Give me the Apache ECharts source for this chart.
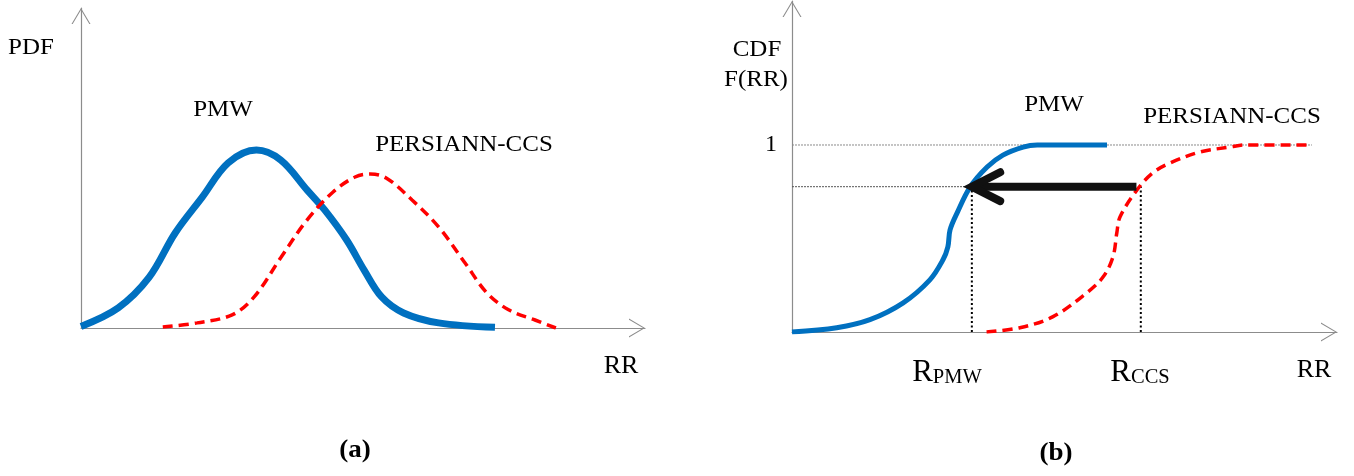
<!DOCTYPE html>
<html>
<head>
<meta charset="utf-8">
<script src="https://cdn.jsdelivr.net/npm/echarts@6/dist/echarts.min.js"></script>
<style>
html,body{margin:0;padding:0;background:#fff;}
#chart{width:1354px;height:476px;}
</style>
</head>
<body>
<div id="chart"></div>
<script>
// ---- Data (abstract units) ----
// Panel (a): PDFs, x = rain rate (0-100), y = density (0-100)
const pdfPMW = [[0,0.5],[6.6,6.3],[12.1,15.9],[16.7,29.7],[21.5,40.9],[26.1,51.6],[31.1,55.6],[35.4,52.5],[40.1,43.1],[43.2,36.9],[47.1,27.5],[50.2,18.1],[53.3,9.7],[57.2,4.7],[63.4,1.6],[73.4,0.2]];
const pdfCCS = [[14.5,0.3],[20.6,1.6],[26.8,4.1],[30.7,9.7],[35.5,22.2],[40.1,33.8],[44.7,42.5],[48.6,47.2],[51.3,48.1],[54.1,46.9],[58.7,40.0],[63.4,31.6],[68.1,20.3],[72.0,10.9],[75.9,5.6],[80.5,2.5],[84.2,0]];
// Panel (b): CDFs, x = rain rate (0-100), y = F(RR) (0-1)
const cdfPMW = [[0,0],[8.2,0.023],[14.3,0.066],[20.4,0.156],[25.3,0.279],[27.7,0.386],[28.6,0.455],[29.0,0.546],[30.3,0.637],[32.7,0.776],[35.8,0.882],[38.7,0.946],[42.4,0.989],[45.0,1.0],[57.8,1.0]];
const cdfCCS = [[35.7,0],[41.8,0.023],[47.9,0.082],[54.1,0.210],[57.1,0.295],[58.9,0.402],[59.6,0.530],[60.2,0.616],[63.3,0.760],[66.2,0.851],[69.4,0.904],[74.9,0.963],[80.4,0.989],[83.1,1.0],[95.4,1.0]];
// Quantile mapping guides
const R_PMW = 33.0;
const R_CCS = 64.0;
const F_LEVEL = 0.777;
const F_ONE = 1;
const ONE_LINE_END = 95.4;
const ARROW_START = 63.2;
const ARROW_HEAD_BACK = 38.2;
const ARROW_HEAD_HALF = 0.077;
// Tick labels
const cdfTickLabels = {1: '1'};

const FONT = '"Liberation Serif","Times New Roman",serif';
const BLUE = '#0070C0';
const RED = '#FF0000';
const AXIS = '#8c8c8c';
const CHEVRON = 'path://M0,16 L9.5,0 L19,16 L17.8,16 L9.5,1.9 L1.2,16 Z';
const SX = 1.04;

function axisBase(extra){
  return Object.assign({
    type: 'value',
    axisLine: {show: true, onZero: false, lineStyle: {color: AXIS, width: 1.2},
      symbol: ['none', CHEVRON], symbolSize: [19, 16], symbolOffset: [0, -8]},
    axisTick: {show: false},
    axisLabel: {show: false},
    splitLine: {show: false}
  }, extra);
}

const lineSeries = (name, data, xi, color, width, type, z, extra) => Object.assign({
  name, type: 'line', data, xAxisIndex: xi, yAxisIndex: xi,
  symbol: 'none', silent: true, z: z || 2,
  lineStyle: {color, width, type: type || 'solid'}
}, extra || {});

const chart = echarts.init(document.getElementById('chart'), null, {renderer: 'canvas'});

const txt = (text, x, y, size, bold) => ({
  type: 'text', x, y, scaleX: SX, silent: true,
  style: {text, fill: '#000', font: (bold ? 'bold ' : '') + size + 'px ' + FONT,
    textAlign: 'center', textVerticalAlign: 'middle', verticalAlign: 'middle'}
});
const subTxt = (main, sub, x, y) => ({
  type: 'text', x, y, silent: true,
  style: {text: '{r|' + main + '}{s|' + sub + '}', fill: '#000', textAlign: 'center',
    textVerticalAlign: 'middle', verticalAlign: 'middle',
    rich: {r: {fontSize: 31, fontFamily: FONT, verticalAlign: 'bottom', fill: '#000'},
           s: {fontSize: 20.5, fontFamily: FONT, verticalAlign: 'bottom', fill: '#000'}}}
});

const smoothOpts = {smooth: 0.35};

const option = {
  animation: false,
  backgroundColor: '#fff',
  grid: [
    {left: 81, top: 8, right: 709, bottom: 148},
    {left: 792, top: 1, right: 17, bottom: 144}
  ],
  xAxis: [
    axisBase({gridIndex: 0, min: 0, max: 100}),
    axisBase({gridIndex: 1, min: 0, max: 100})
  ],
  yAxis: [
    axisBase({gridIndex: 0, min: 0, max: 100}),
    axisBase({gridIndex: 1, min: 0, max: 1.77, interval: 1,
      axisLabel: {show: true, margin: 15, fontFamily: FONT, fontSize: 24, color: '#000',
        formatter: v => cdfTickLabels[v] || ''}})
  ],
  series: [
    lineSeries('PMW PDF', pdfPMW, 0, BLUE, 7, 'solid', 3, smoothOpts),
    lineSeries('PERSIANN-CCS PDF', pdfCCS, 0, RED, 3.5, [10, 6], 4, smoothOpts),
    // guide lines
    lineSeries('F=1', [[0, F_ONE], [ONE_LINE_END, F_ONE]], 1, '#8a8a8a', 1, [2, 1], 1),
    lineSeries('F level', [[0, F_LEVEL], [R_PMW, F_LEVEL]], 1, '#555', 1, [2, 1], 1),
    lineSeries('R_PMW', [[R_PMW, 0], [R_PMW, F_LEVEL]], 1, '#000', 2, [2, 2.5], 1),
    lineSeries('R_CCS', [[R_CCS, 0], [R_CCS, F_LEVEL]], 1, '#000', 2, [2, 2.5], 1),
    lineSeries('PMW CDF', cdfPMW, 1, BLUE, 5, 'solid', 3, smoothOpts),
    lineSeries('PERSIANN-CCS CDF', cdfCCS, 1, RED, 3.5, [10, 6], 4, smoothOpts),
    lineSeries('arrow shaft', [[ARROW_START, F_LEVEL], [R_PMW + 1.2, F_LEVEL]], 1, '#111', 8, 'solid', 6),
    lineSeries('arrow head', [[ARROW_HEAD_BACK, F_LEVEL + ARROW_HEAD_HALF], [R_PMW, F_LEVEL], [ARROW_HEAD_BACK, F_LEVEL - ARROW_HEAD_HALF]], 1, '#111', 8, 'solid', 6,
      {lineStyle: {color: '#111', width: 8, cap: 'round', join: 'miter'}})
  ],
  graphic: [
    txt('PDF', 31, 56 - 8, 24),
    txt('PMW', 223, 118 - 8, 24),
    txt('PERSIANN-CCS', 464, 153 - 8, 24),
    txt('RR', 621, 374 - 8, 25),
    txt('(a)', 355, 458 - 8, 26, true),
    txt('CDF', 757, 58 - 8, 24),
    txt('F(RR)', 756, 88 - 8, 24),
    txt('PMW', 1054, 113 - 8, 24),
    txt('PERSIANN-CCS', 1232, 125 - 8, 24),
    subTxt('R', 'PMW', 947, 383 - 10),
    subTxt('R', 'CCS', 1140, 383 - 10),
    txt('RR', 1314, 378 - 8, 25),
    txt('(b)', 1056, 461 - 8, 26, true)
  ]
};
chart.setOption(option);
</script>
</body>
</html>
